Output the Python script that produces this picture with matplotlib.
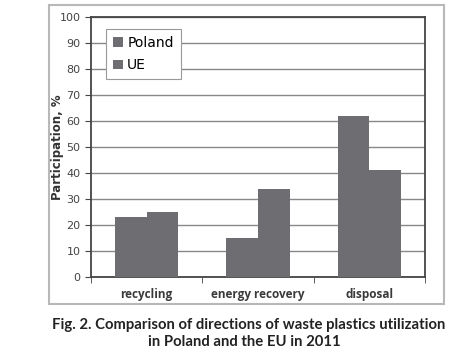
import numpy as np
import matplotlib.pyplot as plt
from matplotlib.patches import Rectangle

categories = ["recycling", "energy recovery", "disposal"]
poland = [23, 15, 62]
ue = [25, 34, 41]

fig = plt.figure(figsize=(4.74, 3.59), dpi=100)
fig.patches.append(Rectangle((0.1034, 0.1532), 0.8333, 0.833, transform=fig.transFigure,
                             fill=False, edgecolor="#b8b8b8", linewidth=1.5))
ax = fig.add_axes([0.192, 0.2284, 0.705, 0.7242])

x = np.arange(len(categories))
w = 0.285
bar_col = "#6d6d72"
ax.bar(x - w / 2, poland, w, color=bar_col, label="Poland", zorder=3)
ax.bar(x + w / 2, ue, w, color=bar_col, label="UE", zorder=3)

ax.set_xlim(-0.5, 2.5)
ax.set_ylim(0, 100)
ax.set_yticks(np.arange(0, 101, 10))
ax.yaxis.grid(True, color="#888888", linewidth=1.0, zorder=0)
ax.set_xticks(x)
ax.set_xticklabels(categories, fontsize=8.5, fontweight="bold", family="Open Sans",
                   color="#3a3a3a")
ax.tick_params(axis="x", length=0, pad=8)
ax.set_xticks([-0.5, 0.5, 1.5, 2.5], minor=True)
ax.tick_params(axis="x", which="minor", length=4, color="#444444")
ax.tick_params(axis="y", labelsize=8, labelcolor="#444444", length=4, color="#444444")
for s in ax.spines.values():
    s.set_color("#444444")
    s.set_linewidth(1.3)
ax.set_ylabel("Participation, %", fontsize=8.5, fontweight="bold", color="#333333", labelpad=-3)

leg = ax.legend(loc="upper left", bbox_to_anchor=(0.025, 0.98), fontsize=10,
                fancybox=False, framealpha=1, edgecolor="#999999",
                handlelength=0.7, handleheight=0.7, handletextpad=0.3,
                labelspacing=0.6, borderpad=0.5)
leg.get_frame().set_linewidth(0.8)

fig.text(0.525, 0.094, "Fig. 2. Comparison of directions of waste plastics utilization",
         ha="center", va="center", fontsize=10.7, fontweight="bold", family="Lato", color="#222222")
fig.text(0.515, 0.048, "in Poland and the EU in 2011",
         ha="center", va="center", fontsize=10.7, fontweight="bold", family="Lato", color="#222222")

fig.savefig("out.png", dpi=100)
